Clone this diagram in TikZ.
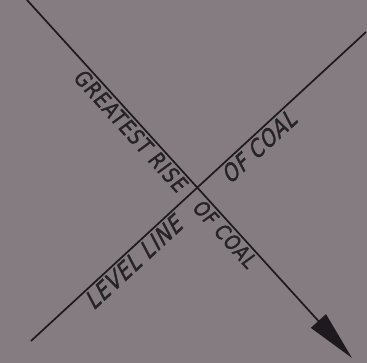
\documentclass[tikz,border=0pt]{standalone}
\usepackage{fontspec}
\usetikzlibrary{arrows.meta}
\newfontfamily\lettrA[FakeSlant=0.32,FakeBold=1.6,LetterSpace=6]{DejaVu Sans}
\newfontfamily\lettrB[FakeSlant=0.12,FakeBold=1.6,LetterSpace=6]{DejaVu Sans}
\definecolor{paper}{RGB}{132,124,129}
\definecolor{ink}{RGB}{28,26,30}
\definecolor{textink}{RGB}{36,35,39}
\begin{document}
\begin{tikzpicture}[x=1pt,y=1pt,
  lineink/.style={draw=ink,line width=1.7pt},
  lbl/.style={sloped,anchor=north,inner sep=0pt,text=textink,yshift=-2.5pt,xscale=0.84}]
\fill[paper] (0,0) rectangle (367,363);
\useasboundingbox (0,0) rectangle (367,363);
\coordinate (A) at (27,363);
\coordinate (T) at (352,5);
\coordinate (C) at (31,22);
\coordinate (B) at (366,331);
\draw[lineink,-{Triangle[length=50pt,width=20pt]}] (A) -- (T);
\draw[lineink] (C) -- (B);
\path (A) -- (T)
  node[lbl,pos=0.344] (gr) {\lettrB\fontsize{22}{26}\selectfont GREATEST RISE}
  node[lbl,pos=0.633] (oc2) {\lettrB\fontsize{21}{25}\selectfont OF COAL};
\path (C) -- (B)
  node[lbl,pos=0.281] (ll) {\lettrA\fontsize{24}{28}\selectfont LEVEL LINE}
  node[lbl,pos=0.655] (oc1) {\lettrA\fontsize{23.5}{28}\selectfont OF COAL};
\end{tikzpicture}
\end{document}
